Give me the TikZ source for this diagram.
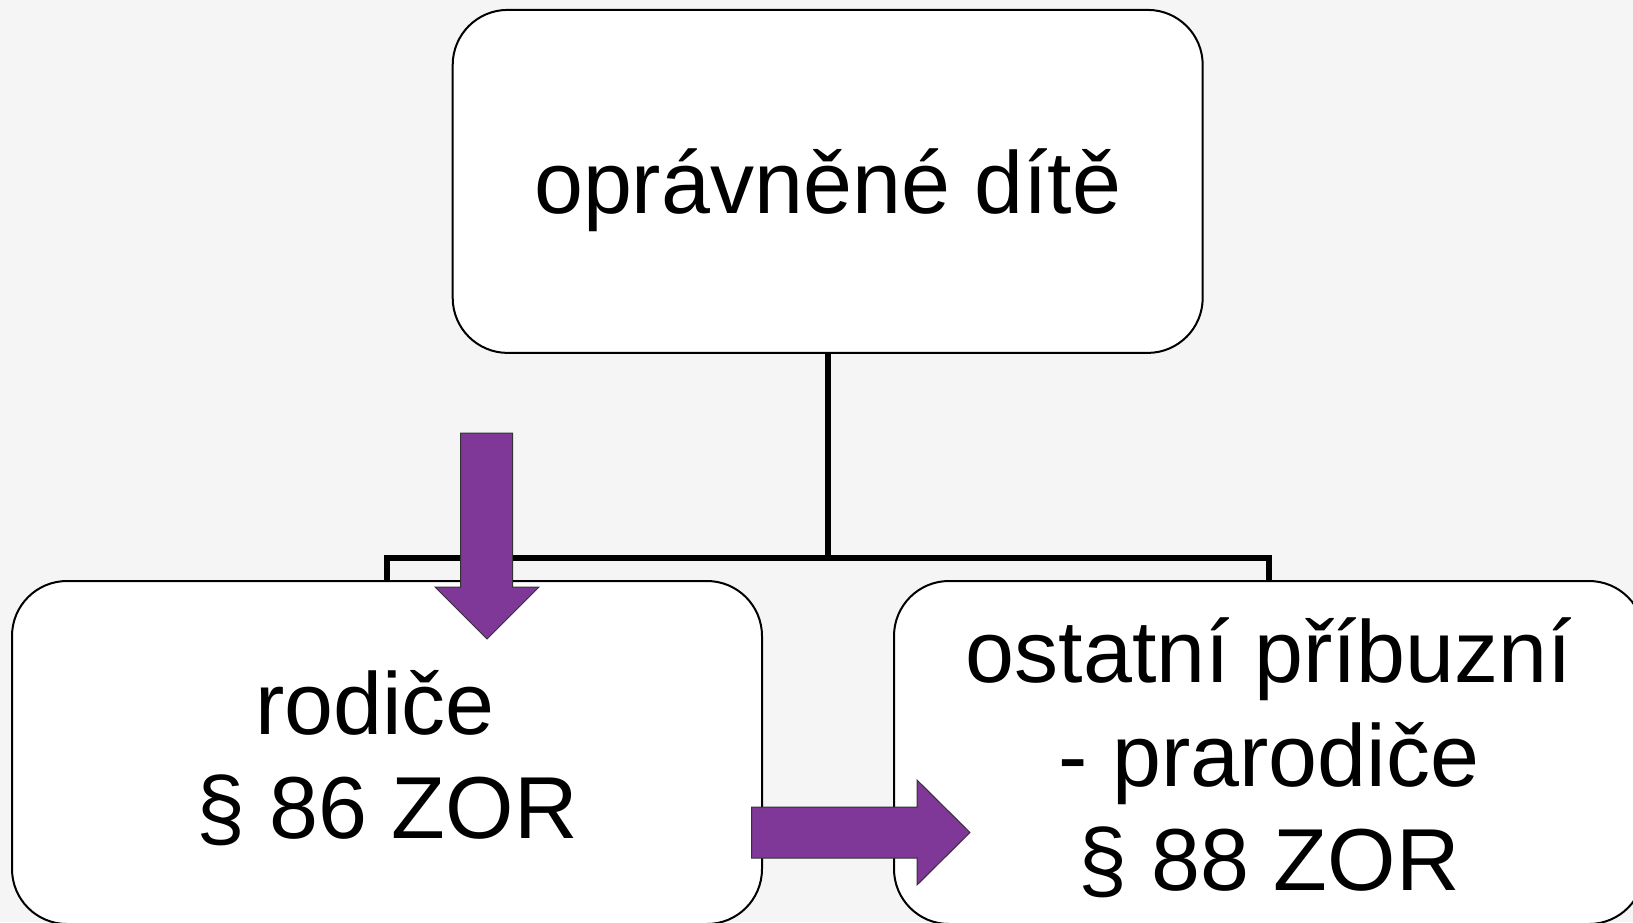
\documentclass[tikz,border=0pt]{standalone}
\usepackage{fontspec}
\setmainfont{Liberation Sans}
\usetikzlibrary{backgrounds}
\definecolor{bgc}{HTML}{F5F5F5}
\definecolor{arrowpurple}{HTML}{7F3798}
\begin{document}
\begin{tikzpicture}[x=0.5pt,y=-0.5pt,
  box/.style={draw=black,line width=1pt,fill=white,rounded corners=27.5pt,
    minimum width=375pt,minimum height=171.5pt,inner sep=0pt},
  conn/.style={draw=black,line width=3pt,line cap=rect,line join=miter},
  lbl/.style={anchor=base,inner sep=0pt,font=\fontsize{44}{52}\selectfont},
  blockarrow/.style={fill=arrowpurple,draw=black!80,line width=0.5pt,line join=miter}]
\useasboundingbox (0,0) rectangle (1633,922);
% boxes
\node[box] (top) at (827.7,181.4) {};
\coordinate (j) at (827.7,558);
\node[box] (left) at (387,752.5) {};
\node[box] (right) at (1269,752.5) {};
% background and connectors behind boxes
\begin{scope}[on background layer]
\fill[bgc] (0,0) rectangle (1633,922);
\draw[conn] (top.south) -- (j);
\draw[conn] (left.north) |- (j) -| (right.north);
\end{scope}
% texts
\node[lbl] (t1) at (827.7,213) {oprávněné dítě};
\node[lbl] (l1) at (375,734) {rodiče};
\node[lbl] (l2) at (387,838) {§ 86 ZOR};
\node[lbl] (r1) at (1269,682) {ostatní příbuzní};
\node[lbl] (r2) at (1269,786) {- prarodiče};
\node[lbl] (r3) at (1269,890) {§ 88 ZOR};
% purple block arrows
\draw[blockarrow] (460.7,433) -- (512.7,433) -- (512.7,587) -- (539,587) -- (487,639) -- (435,587) -- (460.7,587) -- cycle;
\draw[blockarrow] (751.7,807) -- (917,807) -- (917,780) -- (970,832.5) -- (917,885) -- (917,858) -- (751.7,858) -- cycle;
\end{tikzpicture}
\end{document}
